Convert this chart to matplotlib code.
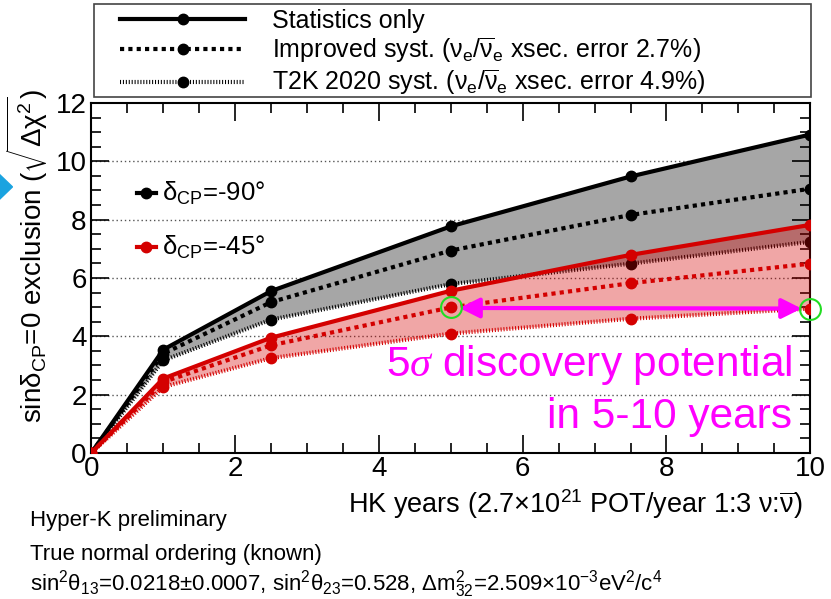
import matplotlib
matplotlib.use('Agg')
import matplotlib.pyplot as plt
from matplotlib.lines import Line2D
from matplotlib.patches import Polygon, Rectangle

plt.rcParams['font.family'] = ['Liberation Sans', 'DejaVu Sans']
plt.rcParams['mathtext.fontset'] = 'custom'
plt.rcParams['mathtext.rm'] = 'Liberation Sans'
plt.rcParams['mathtext.it'] = 'Liberation Serif:italic'
plt.rcParams['mathtext.default'] = 'regular'

# HK years
years = [0, 1, 2.5, 5, 7.5, 10]

# delta_CP = -90 deg
m90_stat = [0, 3.54, 5.55, 7.77, 9.48, 10.92]
m90_impr = [0, 3.40, 5.17, 6.94, 8.16, 9.06]
m90_t2k = [0, 3.17, 4.57, 5.79, 6.49, 7.24]

# delta_CP = -45 deg
m45_stat = [0, 2.55, 3.95, 5.56, 6.79, 7.82]
m45_impr = [0, 2.43, 3.69, 4.99, 5.82, 6.49]
m45_t2k = [0, 2.26, 3.25, 4.09, 4.60, 4.95]

disc_years = [5, 10]
disc_vals = [4.99, 4.95]

RED = '#d40000'
MAG = '#ff00ff'
impr_ls = (0, (1.0, 1.0))
t2k_ls = (0, (0.25, 0.45))
MS = 7.5

fig = plt.figure(figsize=(8.31, 5.99), dpi=100)
ax = fig.add_axes([0.110, 0.244, 0.865, 0.584])

# -90
ax.fill_between(years, m90_stat, m90_t2k, color='#a6a6a6', lw=0, zorder=1)
ax.plot(years, m90_stat, color='k', lw=3, marker='o', ms=MS, zorder=3)
ax.plot(years, m90_impr, color='k', lw=3, ls=impr_ls, marker='o', ms=MS, zorder=3)
ax.plot(years, m90_t2k, color='k', lw=3, ls=t2k_ls, marker='o', ms=MS, zorder=3)

# -45
ax.fill_between(years, m45_stat, m45_t2k, color=RED, alpha=0.35, lw=0, zorder=4)
ax.plot(years, m45_stat, color=RED, lw=3, marker='o', ms=MS, zorder=5)
ax.plot(years, m45_impr, color=RED, lw=3, ls=impr_ls, marker='o', ms=MS, zorder=5)
ax.plot(years, m45_t2k, color=RED, lw=3, ls=t2k_ls, marker='o', ms=MS, zorder=5)

# 5 sigma discovery
ax.plot(disc_years, disc_vals, ls='none', marker='o', ms=15, mfc='none', mec='#22dd22', mew=1.5,
        zorder=7, clip_on=False)
ax.annotate('', xy=(disc_years[0] + 0.12, disc_vals[0] - 0.02), xytext=(disc_years[1] - 0.12, disc_vals[1]),
            arrowprops=dict(arrowstyle='<|-|>', color=MAG, lw=3, mutation_scale=30, shrinkA=0, shrinkB=0),
            zorder=6)
ax.text(9.75, 2.62, r'5$\mathit{\sigma}$ discovery potential', color=MAG, fontsize=30.5, ha='right',
        va='baseline', zorder=8)
ax.text(9.75, 0.86, 'in 5-10 years', color=MAG, fontsize=30.5, ha='right', va='baseline', zorder=8)

# delta labels
ax.plot([0.63, 0.765, 0.9], [8.9, 8.9, 8.9], color='k', lw=3, marker='o', ms=MS, markevery=[1])
ax.plot([0.63, 0.765, 0.9], [7.05, 7.05, 7.05], color=RED, lw=3, marker='o', ms=MS, markevery=[1])
ax.text(0.98, 8.9, r'δ$_{CP}$=-90°', fontsize=18.5, va='center')
ax.text(0.98, 7.05, r'δ$_{CP}$=-45°', fontsize=18.5, va='center')

ax.set_xlim(0, 10)
ax.set_ylim(0, 12)
ax.set_xticks([0, 2, 4, 6, 8, 10])
ax.set_yticks([0, 2, 4, 6, 8, 10, 12])
ax.set_xticks([x * 0.5 for x in range(21)], minor=True)
ax.set_yticks([y * 0.5 for y in range(25)], minor=True)
ax.tick_params(which='both', direction='in', top=True, right=True, labelsize=20, width=1.2)
ax.tick_params(which='major', length=13)
ax.tick_params(which='minor', length=7)
ax.tick_params(axis='x', pad=2)
for y in [2, 4, 6, 8, 10]:
    ax.axhline(y, color='#555555', lw=1, ls=(0, (1, 2)), zorder=0)
for s in ax.spines.values():
    s.set_linewidth(1.5)

ax.set_ylabel(r'sinδ$_{CP}$=0 exclusion ($\sqrt{\Delta\chi^2}$)', fontsize=20)
ax.yaxis.set_label_coords(-0.058, 0.562)
fig.text(0.966, 0.1436, r'HK years (2.7×10$^{21}$ POT/year 1:3 ν:$\overline{ν}$)', fontsize=19.5,
         ha='right', va='baseline')

# legend
handles = [
    Line2D([0], [0], color='k', lw=3, marker='o', ms=MS),
    Line2D([0], [0], color='k', lw=3, ls=impr_ls, marker='o', ms=MS),
    Line2D([0], [0], color='k', lw=3, ls=t2k_ls, marker='o', ms=MS),
]
labels = ['Statistics only',
          r'Improved syst. (ν$_e$/$\overline{ν}_e$ xsec. error 2.7%)',
          r'T2K 2020 syst. (ν$_e$/$\overline{ν}_e$ xsec. error 4.9%)']
leg = fig.legend(handles, labels, loc='upper left', bbox_to_anchor=(120 / 831, 1 - 9 / 599),
                 fontsize=18, handlelength=5.0, handletextpad=1.1, labelspacing=0.12,
                 borderaxespad=0, borderpad=0, frameon=False)
fig.patches.append(Rectangle((94 / 831, 1 - 97 / 599), (811 - 94) / 831, 93 / 599, fill=False,
                             edgecolor='#444444', lw=1.2, transform=fig.transFigure, figure=fig))

# bottom notes
fig.text(0.036, 1 - 526 / 599, 'Hyper-K preliminary', fontsize=16, va='baseline')
fig.text(0.036, 1 - 560 / 599, 'True normal ordering (known)', fontsize=16, va='baseline')
fig.text(0.036, 1 - 590 / 599,
         r'sin$^2$θ$_{13}$=0.0218±0.0007, sin$^2$θ$_{23}$=0.528, Δm$^2_{32}$=2.509×10$^{-3}$eV$^2$/c$^4$',
         fontsize=16, va='baseline')

# blue marker at left edge
fig.patches.append(Polygon([(-0.015, 0.688), (0.0, 0.708), (0.015, 0.688), (0.0, 0.668)],
                           closed=True, transform=fig.transFigure, color='#1aa3e0', figure=fig))

fig.savefig('out.png', dpi=100)
